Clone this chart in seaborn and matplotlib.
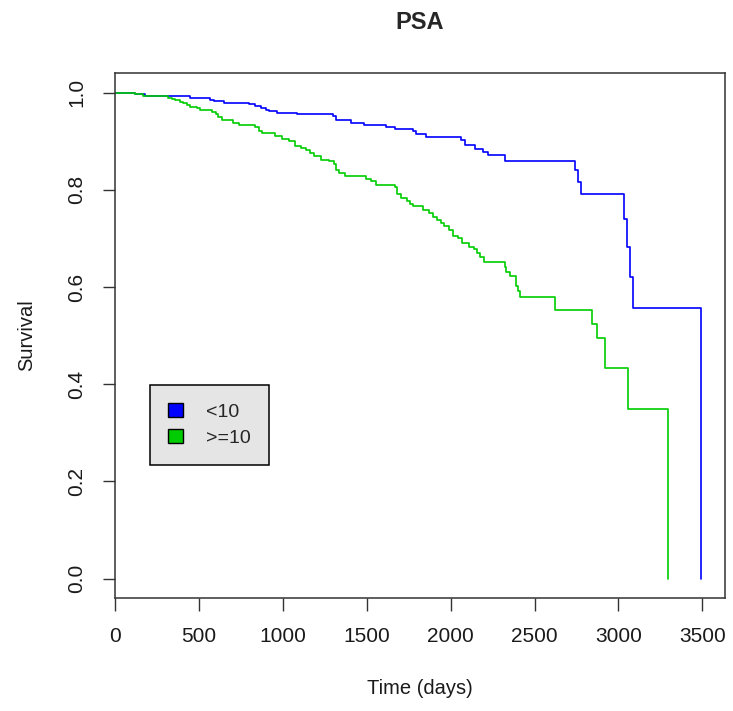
import pandas as pd
import numpy as np
import seaborn as sns
import matplotlib
matplotlib.use("Agg")
import matplotlib.pyplot as plt
from matplotlib.patches import Patch

# Kaplan-Meier curves (time in days, survival after each step)
low_time = [0, 120, 180, 447, 567, 587, 647, 797, 831, 867,
            897, 917, 967, 1087, 1296, 1316, 1406, 1486, 1616, 1666,
            1776, 1792, 1852, 2061, 2085, 2145, 2195, 2221, 2321, 2744,
            2760, 2774, 3034, 3050, 3069, 3086, 3495]
low_surv = [1.0, 0.997, 0.994, 0.990, 0.985, 0.982, 0.979, 0.977, 0.973, 0.969,
            0.965, 0.962, 0.959, 0.956, 0.951, 0.943, 0.937, 0.933, 0.929, 0.925,
            0.921, 0.915, 0.908, 0.903, 0.893, 0.885, 0.878, 0.871, 0.859, 0.840,
            0.816, 0.792, 0.741, 0.683, 0.620, 0.557, 0.0]

high_time = [0, 118, 168, 313, 337, 357, 387, 407, 427, 447,
             487, 507, 577, 600, 612, 640, 700, 740, 836, 856,
             876, 953, 993, 1037, 1073, 1107, 1137, 1161, 1187, 1227,
             1277, 1307, 1317, 1337, 1373, 1497, 1527, 1557, 1667, 1683,
             1703, 1737, 1757, 1777, 1833, 1873, 1897, 1921, 1941, 1961,
             1991, 2013, 2041, 2067, 2107, 2141, 2157, 2173, 2197, 2321,
             2331, 2355, 2389, 2399, 2415, 2624, 2842, 2874, 2918, 3060,
             3295]
high_surv = [1.0, 0.997, 0.994, 0.990, 0.987, 0.984, 0.981, 0.978, 0.975, 0.971,
             0.968, 0.964, 0.960, 0.956, 0.949, 0.943, 0.938, 0.934, 0.929, 0.922,
             0.916, 0.911, 0.905, 0.901, 0.890, 0.887, 0.881, 0.876, 0.869, 0.862,
             0.859, 0.854, 0.841, 0.835, 0.828, 0.823, 0.818, 0.810, 0.806, 0.792,
             0.784, 0.777, 0.771, 0.766, 0.759, 0.752, 0.744, 0.738, 0.732, 0.725,
             0.717, 0.706, 0.700, 0.691, 0.683, 0.679, 0.669, 0.661, 0.652, 0.641,
             0.631, 0.622, 0.602, 0.591, 0.579, 0.552, 0.524, 0.496, 0.433, 0.349,
             0.0]

groups = ["<10", ">=10"]
colors = ["#0000FF", "#00CD00"]
x_ticks = [0, 500, 1000, 1500, 2000, 2500, 3000, 3500]
y_ticks = [0.0, 0.2, 0.4, 0.6, 0.8, 1.0]

df = pd.concat([
    pd.DataFrame({"time": low_time, "surv": low_surv, "group": groups[0]}),
    pd.DataFrame({"time": high_time, "surv": high_surv, "group": groups[1]}),
])

sns.set_style("ticks")
plt.rcParams["font.family"] = ["Liberation Sans", "DejaVu Sans"]

fig = plt.figure(figsize=(7.33, 7.11), dpi=100)
ax = fig.add_axes([0.157, 0.159, 0.832, 0.738])

sns.lineplot(data=df, x="time", y="surv", hue="group", palette=colors,
             estimator=None, sort=False, drawstyle="steps-post",
             linewidth=1.2, legend=False, ax=ax)

ax.set_xlim(0, max(low_time) * 1.04)
ax.set_ylim(-0.04, 1.04)
ax.set_xticks(x_ticks)
ax.set_xticklabels([str(t) for t in x_ticks])
ax.set_yticks(y_ticks)
ax.set_yticklabels([f"{t:.1f}" for t in y_ticks], rotation=90, va="center")
ax.tick_params(length=9, width=1, color="#333333", labelsize=15, pad=12,
               labelcolor="#1a1a1a")
for s in ax.spines.values():
    s.set_visible(True)
    s.set_color("#333333")
    s.set_linewidth(1.1)

ax.set_xlabel("Time (days)", fontsize=14.5, labelpad=24, color="#1a1a1a")
ax.set_ylabel("Survival", fontsize=14.5, labelpad=22, color="#1a1a1a")
ax.set_title("PSA", fontsize=17, fontweight="bold", pad=32)

handles = [Patch(facecolor=c, edgecolor="black", linewidth=1) for c in colors]
leg = ax.legend(handles, groups, loc="lower left", bbox_to_anchor=(0.057, 0.253),
                fontsize=14, frameon=True, fancybox=False, framealpha=1,
                facecolor="#e5e5e5", edgecolor="black", handlelength=0.75,
                handleheight=0.75, handletextpad=1.2, borderpad=0.95,
                labelspacing=0.4, borderaxespad=0)
leg.get_frame().set_linewidth(1.1)

plt.savefig("out.png", dpi=100)
